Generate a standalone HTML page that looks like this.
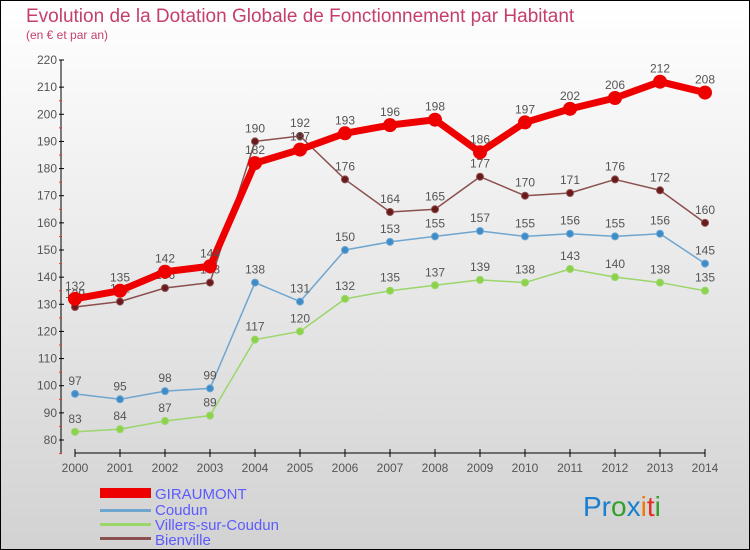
<!DOCTYPE html>
<html><head><meta charset="utf-8"><style>
html,body{margin:0;padding:0}
body{width:750px;height:550px;overflow:hidden;font-family:"Liberation Sans","DejaVu Sans",sans-serif}
svg{display:block}
</style></head><body>
<svg id="chart" width="750" height="550" xmlns="http://www.w3.org/2000/svg">
<defs><linearGradient id="bg" x1="0" y1="0" x2="0" y2="1"><stop offset="0" stop-color="#ffffff"/><stop offset="1" stop-color="#d2d2d2"/></linearGradient></defs>
<rect x="0.5" y="0.5" width="749" height="549" fill="url(#bg)" stroke="#000"/>
<text x="26" y="22" font-size="19" fill="#c4406a">Evolution de la Dotation Globale de Fonctionnement par Habitant</text>
<text x="26" y="39" font-size="12" fill="#c4406a">(en € et par an)</text>
<g id="axes"></g>
<g id="series"></g>
<g id="legend">
<rect x="100" y="488" width="51" height="10" fill="#e00"/>
<text x="155" y="499" font-size="15" fill="#5b5bff">GIRAUMONT</text>
<rect x="100" y="509" width="51" height="3" fill="#6fa6cf"/>
<text x="155" y="515" font-size="15" fill="#5b5bff">Coudun</text>
<rect x="100" y="523" width="51" height="3" fill="#9ad66a"/>
<text x="155" y="530" font-size="15" fill="#5b5bff">Villers-sur-Coudun</text>
<rect x="100" y="537" width="51" height="3" fill="#8b5050"/>
<text x="155" y="545" font-size="15" fill="#5b5bff">Bienville</text>
</g>
<text x="583" y="516" font-size="28"><tspan fill="#1a7fd0">Pr</tspan><tspan fill="#33a02c">o</tspan><tspan fill="#1a7fd0">x</tspan><tspan fill="#f07a00">i</tspan><tspan fill="#e03020">t</tspan><tspan fill="#33a02c">i</tspan></text>
</svg>
<script>
const years=[2000,2001,2002,2003,2004,2005,2006,2007,2008,2009,2010,2011,2012,2013,2014];
const giraumont=[132,135,142,144,182,187,193,196,198,186,197,202,206,212,208];
const coudun=[97,95,98,99,138,131,150,153,155,157,155,156,155,156,145];
const villers=[83,84,87,89,117,120,132,135,137,139,138,143,140,138,135];
const bienville=[129,131,136,138,190,192,176,164,165,177,170,171,176,172,160];
const yTicks=[80,90,100,110,120,130,140,150,160,170,180,190,200,210,220];
const NS='http://www.w3.org/2000/svg';
const xScale=i=>75+i*45;
const yScale=v=>440-(v-80)*380/140;
function mk(tag,attrs,parent){const e=document.createElementNS(NS,tag);for(const k in attrs)e.setAttribute(k,attrs[k]);parent.appendChild(e);return e;}
const axes=document.getElementById('axes');
let a=mk('line',{x1:61,y1:60,x2:61,y2:453,stroke:'#000'},axes);


a=mk('line',{x1:75,y1:453,x2:705,y2:453,stroke:'#000'},axes);


yTicks.forEach(t=>{const y=yScale(t);
 mk('line',{x1:59,y1:y,x2:64,y2:y,stroke:'#000'},axes);
 mk('line',{x1:59,y1:y+13.6,x2:62,y2:y+13.6,stroke:t<220?'#e33':'none'},axes);
 const tx=mk('text',{x:57,y:y+4,'font-size':12,'text-anchor':'end',fill:'#555'},axes);
 tx.textContent=t;
 
 });
years.forEach((yr,i)=>{const x=xScale(i);
 mk('line',{x1:x,y1:449,x2:x,y2:457,stroke:'#000'},axes);
 const tx=mk('text',{x:x,y:472,'font-size':12,'text-anchor':'middle',fill:'#555'},axes);
 tx.textContent=yr;
 
 });
const sg=document.getElementById('series');
function drawSeries(name,vals,color,w,r,dotFill){
 const g=mk('g',{},sg);
 
 
 const pts=vals.map((v,i)=>xScale(i)+','+yScale(v)).join(' ');
 const pl=mk('polyline',{points:pts,fill:'none',stroke:color,'stroke-width':w,'stroke-linejoin':'round'},g);
 
 
 vals.forEach((v,i)=>{
  const c=mk('circle',{cx:xScale(i),cy:yScale(v),r:r,fill:dotFill,stroke:color,'stroke-width':1},g);
  
  
  const t=mk('text',{x:xScale(i),y:yScale(v)-9,'font-size':12,'text-anchor':'middle',fill:'#555'},g);
  t.textContent=v;
  
  
 });
}
drawSeries('villers',villers,'#9ad66a',1.5,3.5,'#8cd24a');
drawSeries('coudun',coudun,'#6fa6cf',1.5,3.5,'#3d8cc8');
drawSeries('bienville',bienville,'#8b5050',1.5,3.5,'#6a1a1a');
drawSeries('giraumont',giraumont,'#e00',7,6.5,'#e00');
</script>
</body></html>
